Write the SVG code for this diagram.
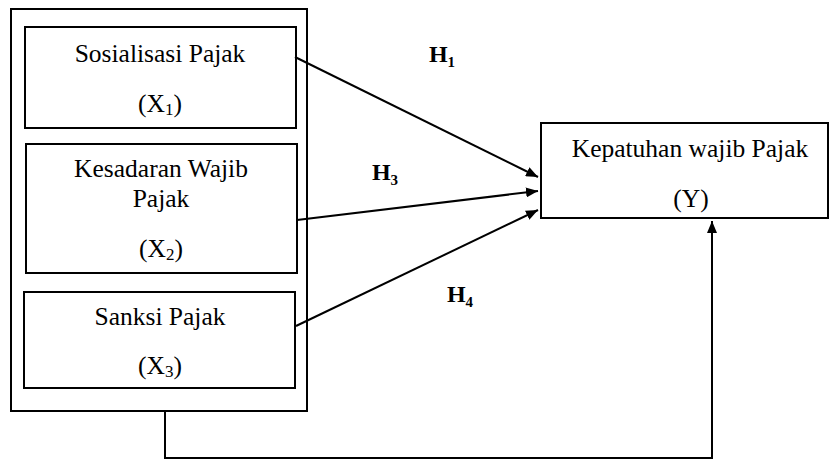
<svg xmlns="http://www.w3.org/2000/svg" width="830" height="461" viewBox="0 0 830 461">
  <style>
    .box { fill: #ffffff; stroke: #000000; stroke-width: 2; }
    .lbl { font-family: "Liberation Serif", "Times New Roman", serif; font-size: 25.5px; fill: #000000; text-anchor: middle; }
    .sub { font-size: 17px; }
    .hyp { font-family: "Liberation Serif", "Times New Roman", serif; font-size: 24px; font-weight: bold; fill: #000000; text-anchor: middle; }
    .hsub { font-size: 15px; }
    .wire { fill: none; stroke: #000000; stroke-width: 2; }
  </style>
  <defs>
    <marker id="head" viewBox="0 0 12 10" refX="12" refY="5" markerWidth="12" markerHeight="10" markerUnits="userSpaceOnUse" orient="auto">
      <path d="M0,0 L12,5 L0,10 Z" fill="#000000"/>
    </marker>
  </defs>

  <rect id="group-x" class="box" x="11" y="9" width="296" height="402"/>

  <g id="x1">
    <rect class="box" x="25" y="27" width="271" height="101"/>
    <text class="lbl" x="160" y="62">Sosialisasi Pajak</text>
    <text class="lbl" x="160" y="112">(X<tspan class="sub" dy="3">1</tspan><tspan dy="-3">)</tspan></text>
  </g>

  <g id="x2">
    <rect class="box" x="26" y="144" width="271" height="129"/>
    <text class="lbl" x="161" y="177">Kesadaran Wajib</text>
    <text class="lbl" x="161" y="207">Pajak</text>
    <text class="lbl" x="161" y="257">(X<tspan class="sub" dy="3">2</tspan><tspan dy="-3">)</tspan></text>
  </g>

  <g id="x3">
    <rect class="box" x="24" y="292" width="271" height="96"/>
    <text class="lbl" x="160" y="325">Sanksi Pajak</text>
    <text class="lbl" x="160" y="374">(X<tspan class="sub" dy="3">3</tspan><tspan dy="-3">)</tspan></text>
  </g>

  <g id="y">
    <rect class="box" x="541" y="123" width="287" height="95"/>
    <text class="lbl" x="690" y="157">Kepatuhan wajib Pajak</text>
    <text class="lbl" x="691" y="207">(Y)</text>
  </g>

  <g id="connectors">
    <line class="wire" x1="295" y1="57" x2="538" y2="177" marker-end="url(#head)"/>
    <line class="wire" x1="297" y1="220" x2="538" y2="191" marker-end="url(#head)"/>
    <line class="wire" x1="296" y1="326" x2="538" y2="210" marker-end="url(#head)"/>
    <polyline class="wire" points="165,411 165,458 712,458 712,221" marker-end="url(#head)"/>
  </g>

  <g id="hypotheses">
    <text class="hyp" x="442" y="62">H<tspan class="hsub" dy="5">1</tspan></text>
    <text class="hyp" x="385" y="180">H<tspan class="hsub" dy="5">3</tspan></text>
    <text class="hyp" x="460" y="302">H<tspan class="hsub" dy="5">4</tspan></text>
  </g>
</svg>
